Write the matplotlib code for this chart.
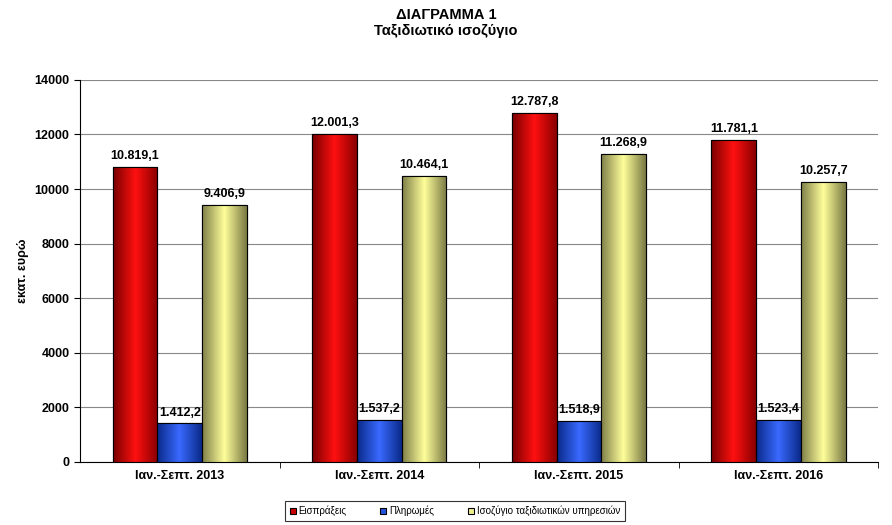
import matplotlib
matplotlib.use("Agg")
import matplotlib.pyplot as plt
import numpy as np
from matplotlib.colors import LinearSegmentedColormap

categories = ["Ιαν.-Σεπτ. 2013", "Ιαν.-Σεπτ. 2014", "Ιαν.-Σεπτ. 2015", "Ιαν.-Σεπτ. 2016"]
receipts = [10819.1, 12001.3, 12787.8, 11781.1]
payments = [1412.2, 1537.2, 1518.9, 1523.4]
balance = [9406.9, 10464.1, 11268.9, 10257.7]
series_names = ["Εισπράξεις", "Πληρωμές", "Ισοζύγιο ταξιδιωτικών υπηρεσιών"]
yticks = [0, 2000, 4000, 6000, 8000, 10000, 12000, 14000]

def fmt(v):
    s = f"{v:,.1f}"
    return s.replace(",", "X").replace(".", ",").replace("X", ".")

fig = plt.figure(figsize=(8.92, 5.25), dpi=100)
ax = fig.add_axes([0.0897, 0.12, 0.895, 0.728])
x = np.arange(len(categories))
w = 0.224
grads = [["#7a0000", "#ff1010", "#8a0000"],
         ["#0a2a8a", "#3a6aff", "#0a2a8a"],
         ["#80804a", "#ffff9a", "#7a7a45"]]
legcols = ["#cc0000", "#2255dd", "#f0f090"]
for i, (vals, g) in enumerate(zip([receipts, payments, balance], grads)):
    bars = ax.bar(x + (i - 1) * w, vals, w, color=legcols[i], edgecolor="black",
                  linewidth=0.8, label=series_names[i], zorder=3)
    cmap = LinearSegmentedColormap.from_list("g", g)
    grad = np.linspace(0, 1, 64).reshape(1, -1)
    for b, v in zip(bars, vals):
        im = ax.imshow(grad, cmap=cmap, aspect="auto", zorder=3.5,
                       extent=[b.get_x(), b.get_x() + b.get_width(), 0, b.get_height()])
        im.set_clip_path(b)
        ax.add_patch(plt.Rectangle((b.get_x(), 0), b.get_width(), b.get_height(),
                                   fill=False, edgecolor="black", linewidth=0.8, zorder=4))
        ax.text(b.get_x() + b.get_width() / 2, v + 180, fmt(v), ha="center", va="bottom",
                fontsize=9, fontweight="bold", fontfamily="Liberation Sans", zorder=5)
ax.set_xlim(-0.5, 3.5)
ax.set_ylim(0, 14000)
ax.set_yticks(yticks)
ax.set_yticklabels([str(t) for t in yticks], fontsize=9, fontweight="bold", fontfamily="Liberation Sans")
ax.set_xticks(x)
ax.set_xticklabels(categories, fontsize=9, fontweight="bold", fontfamily="Liberation Sans")
ax.tick_params(axis="x", length=0, pad=6)
ax.tick_params(axis="y", length=4, direction="out")
ax.set_xticks([0.5, 1.5, 2.5, 3.5], minor=True)
ax.tick_params(axis="x", which="minor", length=4)
ax.grid(axis="y", color="#888888", linewidth=0.8, zorder=0)
for s in ["top", "right"]:
    ax.spines[s].set_visible(False)
ax.set_ylabel("εκατ. ευρώ", fontsize=9, fontweight="bold", fontfamily="Liberation Sans")
fig.text(0.5, 0.972, "ΔΙΑΓΡΑΜΜΑ 1", ha="center", va="center", fontsize=10.5,
         fontweight="bold", fontfamily="Liberation Sans")
fig.text(0.5, 0.94, "Ταξιδιωτικό ισοζύγιο", ha="center", va="center", fontsize=10.5,
         fontweight="bold", fontfamily="Liberation Sans")
leg = fig.legend(loc="center", bbox_to_anchor=(0.51, 0.027), ncol=3, frameon=True,
                 fancybox=False, edgecolor="black", handlelength=0.6, handleheight=0.6,
                 columnspacing=3.5, handletextpad=0.3, borderpad=0.5,
                 prop={"family": "Liberation Sans", "size": 7})
leg.get_frame().set_linewidth(0.8)
fig.savefig("out.png", dpi=100)
